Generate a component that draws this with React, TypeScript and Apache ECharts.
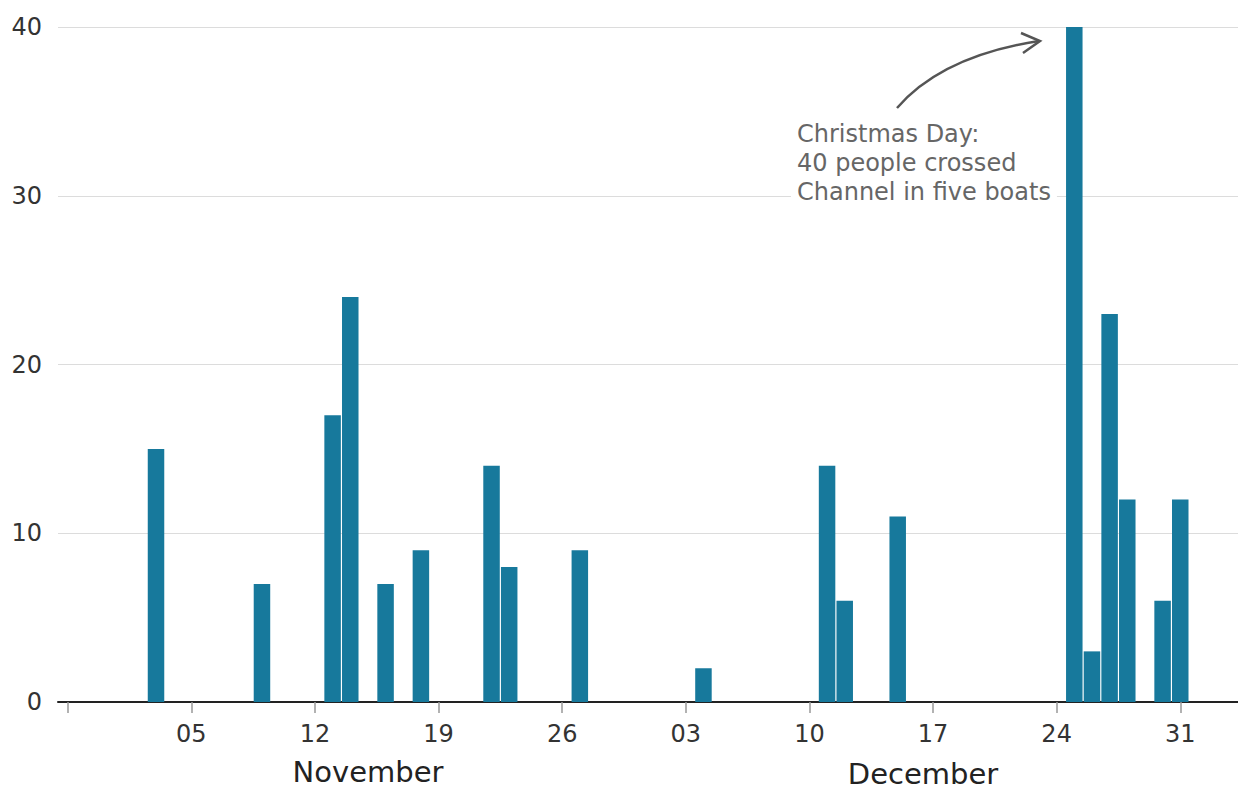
import React, { useEffect, useRef } from "react";
import * as echarts from "echarts";

// ---- data ----
const crossingDates = [
  "2018-11-03", "2018-11-09", "2018-11-13", "2018-11-14", "2018-11-16", "2018-11-18",
  "2018-11-22", "2018-11-23", "2018-11-27", "2018-12-04", "2018-12-11", "2018-12-12",
  "2018-12-15", "2018-12-25", "2018-12-26", "2018-12-27", "2018-12-28", "2018-12-30",
  "2018-12-31",
];
const peopleCrossed = [15, 7, 17, 24, 7, 9, 14, 8, 9, 2, 14, 6, 11, 40, 3, 23, 12, 6, 12];

const tickDates = [
  "2018-10-29", "2018-11-05", "2018-11-12", "2018-11-19", "2018-11-26",
  "2018-12-03", "2018-12-10", "2018-12-17", "2018-12-24", "2018-12-31",
];
const labelDates = [
  "2018-11-05", "2018-11-12", "2018-11-19", "2018-11-26",
  "2018-12-03", "2018-12-10", "2018-12-17", "2018-12-24", "2018-12-31",
];
const tickLabels = ["05", "12", "19", "26", "03", "10", "17", "24", "31"];
const monthLabels = ["November", "December"];
const yTicks = [0, 10, 20, 30, 40];
const annotationLines = ["Christmas Day:", "40 people crossed", "Channel in five boats"];

const START = Date.UTC(2018, 9, 29);
function dayIdx(s: string): number {
  const [y, m, d] = s.split("-").map(Number);
  return Math.round((Date.UTC(y, m - 1, d) - START) / 86400000);
}

const FONT = "DejaVu Sans";

export default function App() {
  const ref = useRef<HTMLDivElement>(null);
  useEffect(() => {
    if (!ref.current) return;
    const chart = echarts.init(ref.current, null, { renderer: "svg" });
    const labelIdx = labelDates.map(dayIdx);
    const option: any = {
      animation: false,
      backgroundColor: "#fff",
      grid: { left: 58, right: 0, top: 27, bottom: 88, containLabel: false },
      xAxis: {
        type: "value",
        min: -0.55,
        max: 66.27,
        splitLine: { show: false },
        axisLine: { show: true, onZero: false, lineStyle: { color: "#222", width: 2 } },
        axisTick: {
          show: true,
          customValues: tickDates.map(dayIdx),
          length: 11,
          lineStyle: { color: "#999", width: 1.5 },
        },
        axisLabel: {
          customValues: labelIdx,
          formatter: (v: number) => {
            const i = labelIdx.indexOf(Math.round(v));
            return i >= 0 ? tickLabels[i] : "";
          },
          fontSize: 24,
          fontFamily: FONT,
          color: "#333",
          margin: 20,
        },
      },
      yAxis: {
        type: "value",
        min: yTicks[0],
        max: yTicks[yTicks.length - 1],
        interval: 10,
        axisLine: { show: false },
        axisTick: { show: false },
        splitLine: { lineStyle: { color: "#dcdcdc", width: 1 } },
        axisLabel: { fontSize: 24, fontFamily: FONT, color: "#333", margin: 16 },
      },
      series: [
        {
          type: "bar",
          barWidth: 16.5,
          itemStyle: { color: "#17799c" },
          data: crossingDates.map((d, i) => [dayIdx(d), peopleCrossed[i]]),
        },
      ],
      graphic: [
        {
          type: "text",
          x: 368,
          y: 772,
          style: {
            text: monthLabels[0],
            font: `29px "${FONT}"`,
            fill: "#222",
            align: "center",
            verticalAlign: "middle",
            lineHeight: 28,
          },
        },
        {
          type: "text",
          x: 923,
          y: 774,
          style: {
            text: monthLabels[1],
            font: `29px "${FONT}"`,
            fill: "#222",
            align: "center",
            verticalAlign: "middle",
            lineHeight: 28,
          },
        },
        {
          type: "text",
          x: 791,
          y: 117,
          z: 10,
          style: {
            text: annotationLines.join("\n"),
            font: `24px "${FONT}"`,
            fill: "#666",
            align: "left",
            verticalAlign: "top",
            lineHeight: 29,
            backgroundColor: "#fff",
            padding: [2, 6, 2, 6],
          },
        },
        {
          type: "bezierCurve",
          z: 10,
          shape: { x1: 897, y1: 108, x2: 1039, y2: 41, cpx1: 942, cpy1: 56 },
          style: { stroke: "#555", lineWidth: 2.5, fill: "none" },
        },
        {
          type: "polyline",
          z: 10,
          shape: { points: [[1021, 33], [1040, 41], [1023, 53]] },
          style: { stroke: "#555", lineWidth: 2.5, fill: "none" },
        },
      ],
    };
    chart.setOption(option);
    return () => chart.dispose();
  }, []);
  return (
    <div
      ref={ref}
      style={{ position: "fixed", left: 0, top: 0, width: 1238, height: 790, background: "#fff" }}
    />
  );
}
